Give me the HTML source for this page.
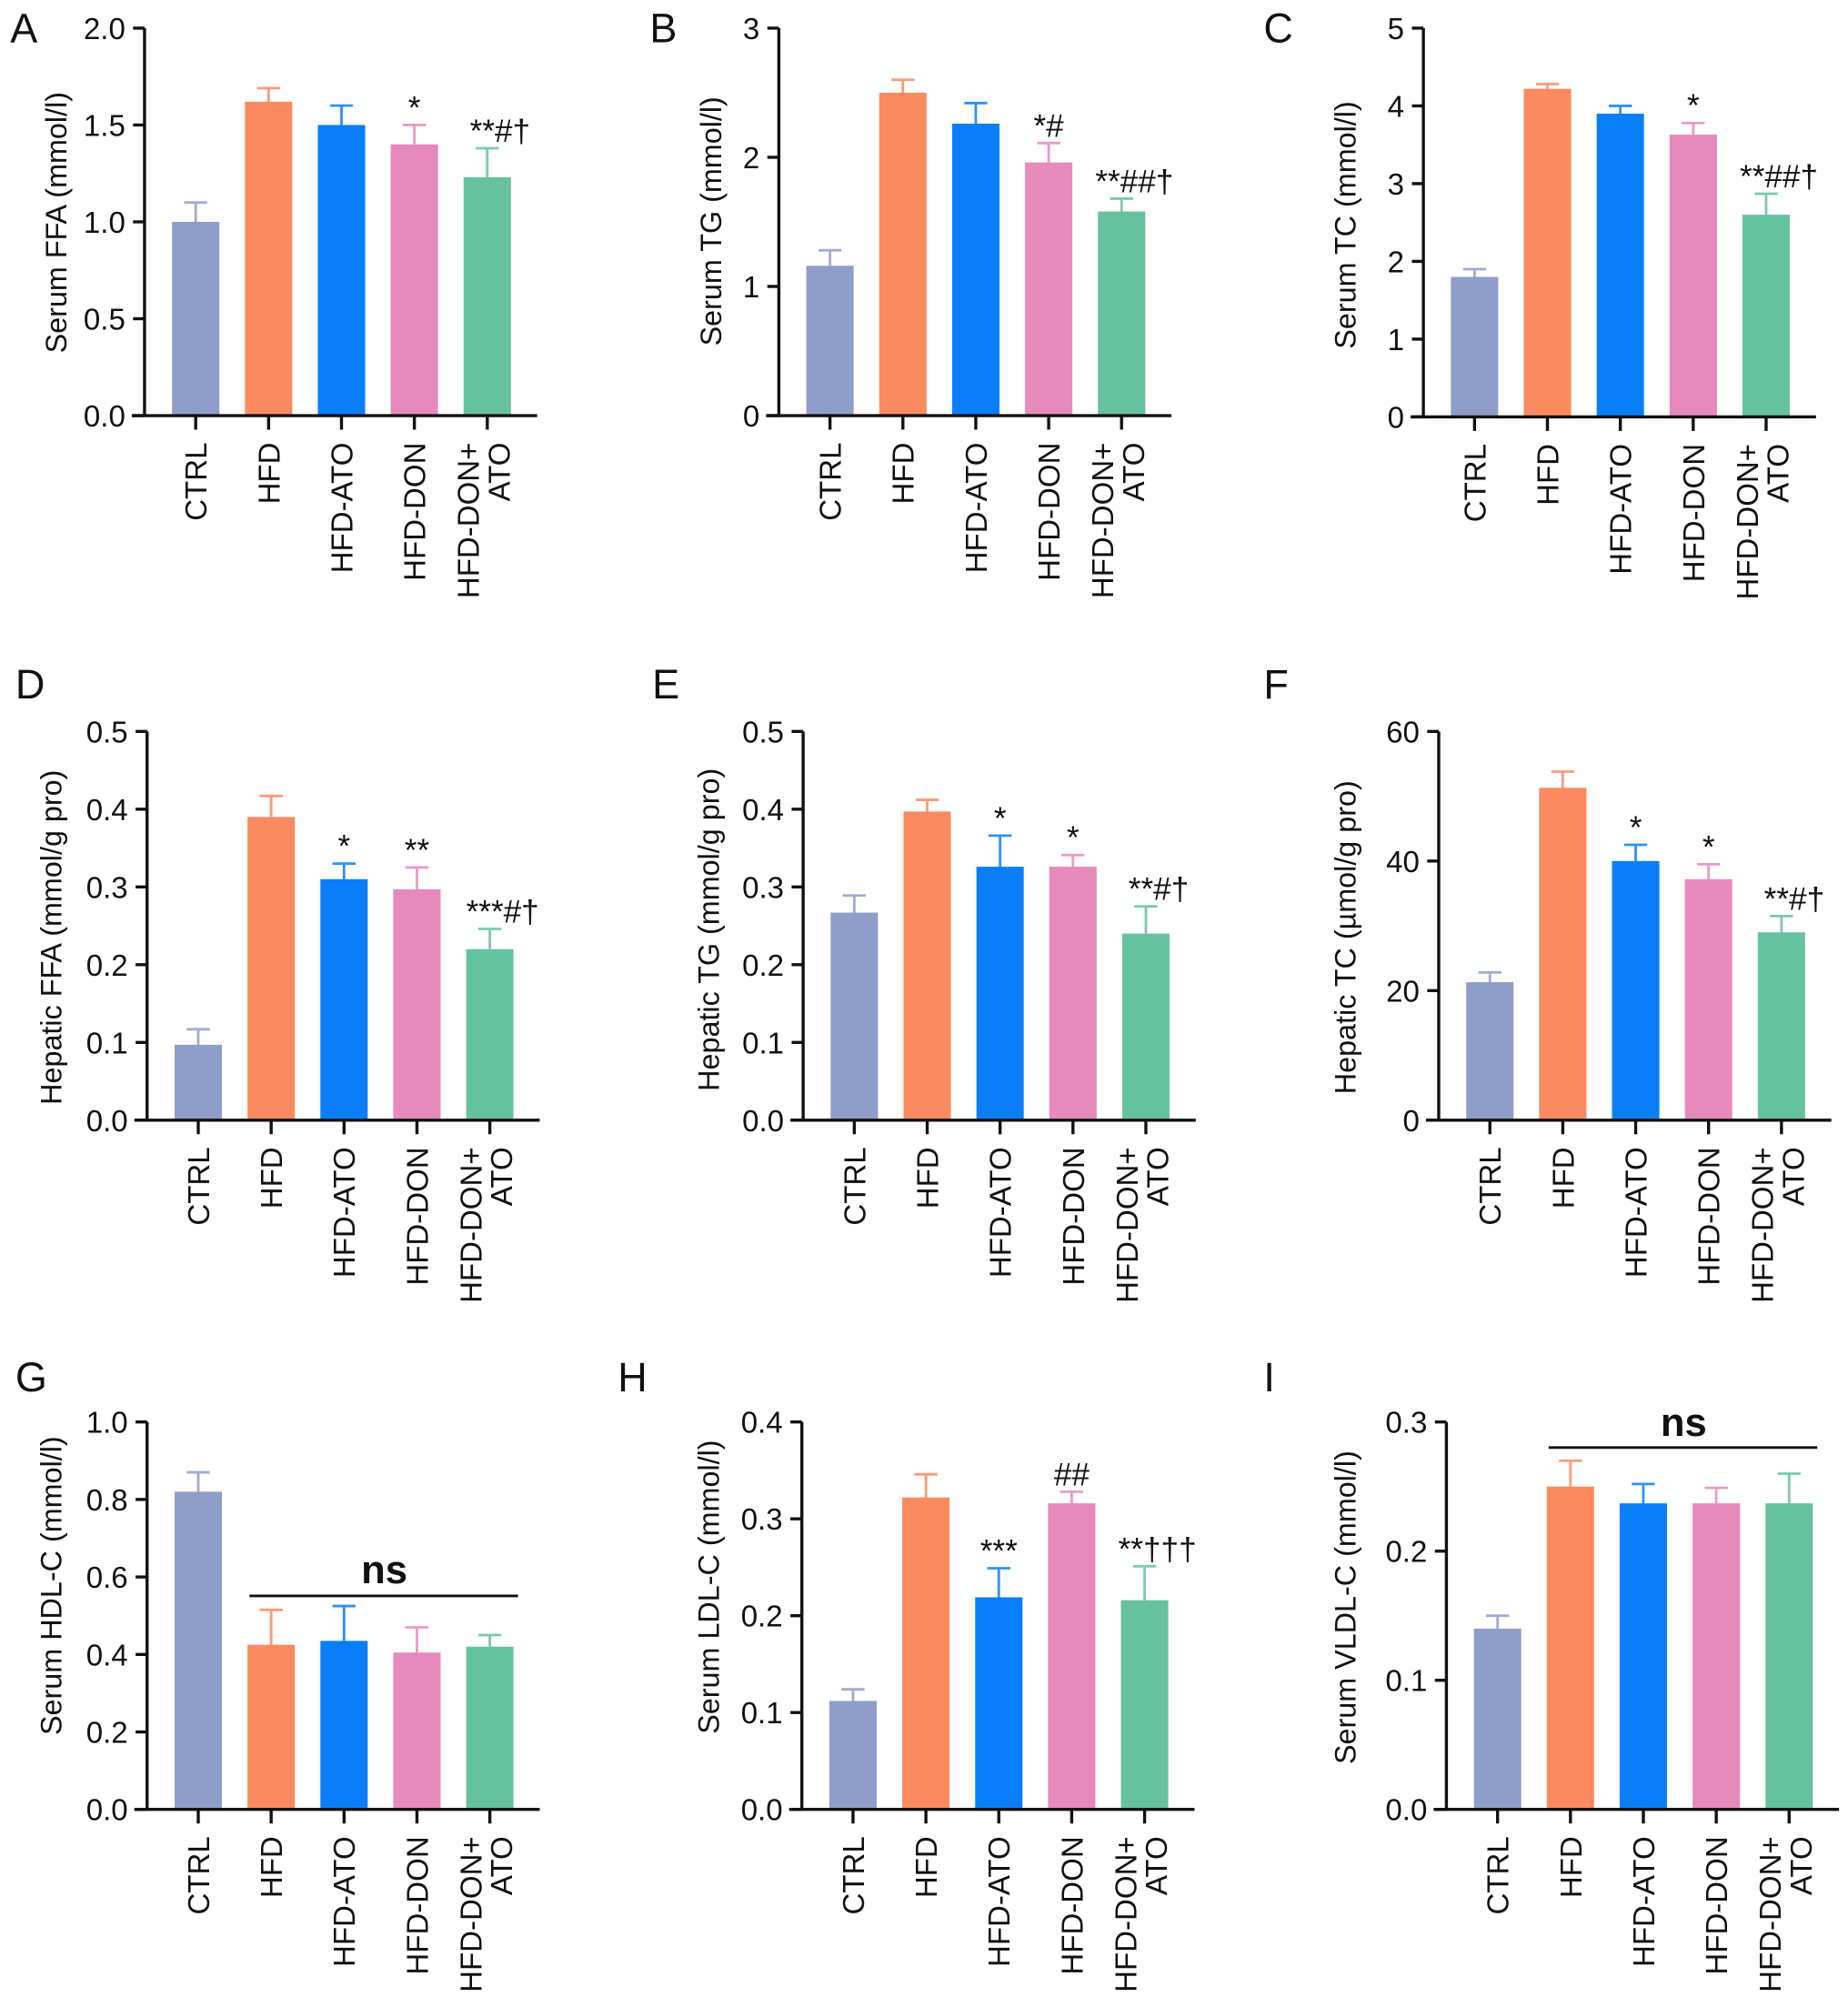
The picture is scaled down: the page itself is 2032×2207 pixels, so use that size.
<!DOCTYPE html>
<html><head><meta charset="utf-8"><style>
html,body{margin:0;padding:0;background:#fff}
svg{display:block;font-family:"Liberation Sans",Arial,sans-serif}
</style></head><body>
<svg id="fig" xmlns="http://www.w3.org/2000/svg" width="2032" height="2207" viewBox="0 0 1445 1569.5"></svg>
<script>
const categories = ["CTRL","HFD","HFD-ATO","HFD-DON","HFD-DON+\nATO"];
const colors = ["#8f9dc9","#fb8a61","#0a7ef8","#e68abc","#66c19f"];

const aMeans = [1.0,1.62,1.5,1.4,1.23];   const aErr = [0.1,0.07,0.1,0.1,0.15];
const aTicks = ["0.0","0.5","1.0","1.5","2.0"]; const aAnn = ["","","","*","**#†"];
const bMeans = [1.16,2.5,2.26,1.96,1.58]; const bErr = [0.12,0.1,0.16,0.15,0.1];
const bTicks = ["0","1","2","3"]; const bAnn = ["","","","*#","**##†"];
const cMeans = [1.8,4.22,3.9,3.63,2.6];   const cErr = [0.1,0.06,0.1,0.15,0.27];
const cTicks = ["0","1","2","3","4","5"]; const cAnn = ["","","","*","**##†"];
const dMeans = [0.097,0.39,0.31,0.297,0.22]; const dErr = [0.02,0.027,0.02,0.028,0.026];
const dTicks = ["0.0","0.1","0.2","0.3","0.4","0.5"]; const dAnn = ["","","*","**","***#†"];
const eMeans = [0.267,0.397,0.326,0.326,0.24]; const eErr = [0.022,0.015,0.04,0.015,0.035];
const eTicks = ["0.0","0.1","0.2","0.3","0.4","0.5"]; const eAnn = ["","","*","*","**#†"];
const fMeans = [21.3,51.3,40,37.2,29]; const fErr = [1.5,2.5,2.5,2.3,2.5];
const fTicks = ["0","20","40","60"]; const fAnn = ["","","*","*","**#†"];
const gMeans = [0.82,0.425,0.435,0.405,0.42]; const gErr = [0.05,0.09,0.09,0.065,0.03];
const gTicks = ["0.0","0.2","0.4","0.6","0.8","1.0"]; const gAnn = ["","","","",""];
const hMeans = [0.112,0.322,0.219,0.316,0.216]; const hErr = [0.012,0.024,0.03,0.012,0.035];
const hTicks = ["0.0","0.1","0.2","0.3","0.4"]; const hAnn = ["","","***","##","**†††"];
const iMeans = [0.14,0.25,0.237,0.237,0.237]; const iErr = [0.01,0.02,0.015,0.012,0.023];
const iTicks = ["0.0","0.1","0.2","0.3"]; const iAnn = ["","","","",""];

const NS="http://www.w3.org/2000/svg";
const svg=document.getElementById('fig');
function mk(tag,attrs,parent,text){const e=document.createElementNS(NS,tag);for(const k in attrs)e.setAttribute(k,attrs[k]);if(text!==undefined)e.textContent=text;(parent||svg).appendChild(e);return e;}

const panels=[
 {id:"a",letter:"A",lx:8,ly:33,ax:113,top:22,zero:325,max:2,means:aMeans,err:aErr,ticks:aTicks,ann:aAnn,title:"Serum FFA (mmol/l)",tx:44,ty:174},
 {id:"b",letter:"B",lx:508,ly:33,ax:609,top:22,zero:325,max:3,means:bMeans,err:bErr,ticks:bTicks,ann:bAnn,title:"Serum TG (mmol/l)",tx:556,ty:173},
 {id:"c",letter:"C",lx:988,ly:33,ax:1113,top:22,zero:326,max:5,means:cMeans,err:cErr,ticks:cTicks,ann:cAnn,title:"Serum TC (mmol/l)",tx:1052,ty:176},
 {id:"d",letter:"D",lx:12,ly:546,ax:115,top:572,zero:876,max:0.5,means:dMeans,err:dErr,ticks:dTicks,ann:dAnn,title:"Hepatic FFA (mmol/g pro)",tx:40,ty:733},
 {id:"e",letter:"E",lx:510,ly:546,ax:628,top:572,zero:876,max:0.5,means:eMeans,err:eErr,ticks:eTicks,ann:eAnn,title:"Hepatic TG (mmol/g pro)",tx:554,ty:727},
 {id:"f",letter:"F",lx:988,ly:546,ax:1125,top:572,zero:876,max:60,means:fMeans,err:fErr,ticks:fTicks,ann:fAnn,title:"Hepatic TC (µmol/g pro)",tx:1052,ty:733},
 {id:"g",letter:"G",lx:12,ly:1088,ax:115,top:1112,zero:1415,max:1.0,means:gMeans,err:gErr,ticks:gTicks,ann:gAnn,title:"Serum HDL-C (mmol/l)",tx:40,ty:1240,ns:{y:1248,ty:1238}},
 {id:"h",letter:"H",lx:483,ly:1088,ax:627,top:1112,zero:1415,max:0.4,means:hMeans,err:hErr,ticks:hTicks,ann:hAnn,title:"Serum LDL-C (mmol/l)",tx:554,ty:1241},
 {id:"i",letter:"I",lx:988,ly:1088,ax:1131,top:1112,zero:1415,max:0.3,means:iMeans,err:iErr,ticks:iTicks,ann:iAnn,title:"Serum VLDL-C (mmol/l)",tx:1052,ty:1257,ns:{y:1132,ty:1123}}
];

panels.forEach(p=>{
  const g=mk('g',{});
  
  
  const yS=v=>p.zero-(v/p.max)*(p.zero-p.top);
  const xS=i=>p.ax+40+i*57;
  const L=mk('text',{x:p.lx,y:p.ly,'font-size':32,fill:'#111'},g,p.letter);
  
  
  p.means.forEach((m,i)=>{
    const cx=xS(i), yt=yS(m+p.err[i]), yb=yS(m);
    const eb=mk('path',{d:`M${cx},${yb}V${yt}M${cx-9},${yt}H${cx+9}`,stroke:colors[i],'stroke-width':2,fill:'none',opacity:0.85},g);
    
    
    const r=mk('rect',{x:cx-18.5,y:yb,width:37,height:p.zero-yb,fill:colors[i]},g);
    
    
    if(p.ann[i]){
      const off=(i===4)?10:0;
      const t=mk('text',{x:cx+off,y:yt-5,'font-size':25,'text-anchor':'middle',fill:'#111'},g,p.ann[i]);
      
      
    }
    const tk=mk('line',{x1:cx,y1:p.zero,x2:cx,y2:p.zero+11,stroke:'#111','stroke-width':2.4},g);
    
    
    const lines=categories[i].split('\n');
    lines.forEach((ln,k)=>{
      const lx= lines.length>1 ? cx+(k===0?-15:9)+8.5 : cx+8.5;
      const y0=p.zero+21;
      const t=mk('text',{x:lx,y:y0,'font-size':23.5,'text-anchor':'end',fill:'#111',transform:`rotate(-90 ${lx} ${y0})`},g,ln);
      
      
    });
  });
  const ya=mk('line',{x1:p.ax,y1:p.top,x2:p.ax,y2:p.zero,stroke:'#111','stroke-width':2.4},g);
  
  
  const xa=mk('line',{x1:p.ax-10,y1:p.zero,x2:p.ax+307,y2:p.zero,stroke:'#111','stroke-width':2.4},g);
  
  
  p.ticks.forEach(tv=>{
    const y=yS(parseFloat(tv));
    const tl=mk('line',{x1:p.ax-9,y1:y,x2:p.ax,y2:y,stroke:'#111','stroke-width':2.4},g);
    
    
    const tt=mk('text',{x:p.ax-15,y:y+8.5,'font-size':23.5,'text-anchor':'end',fill:'#111'},g,tv);
    
    
  });
  const ti=mk('text',{x:p.tx+8,y:p.ty,'font-size':23,'text-anchor':'middle',fill:'#111',transform:`rotate(-90 ${p.tx+8} ${p.ty})`},g,p.title);
  
  
  if(p.ns){
    const nl=mk('line',{x1:xS(1)-17,y1:p.ns.y,x2:xS(4)+22,y2:p.ns.y,stroke:'#111','stroke-width':2},g);
    
    
    const nt=mk('text',{x:(xS(1)+xS(4))/2+3,y:p.ns.ty,'font-size':31,'font-weight':'bold','text-anchor':'middle',fill:'#111'},g,'ns');
    
    
  }
});
</script>
</body></html>
